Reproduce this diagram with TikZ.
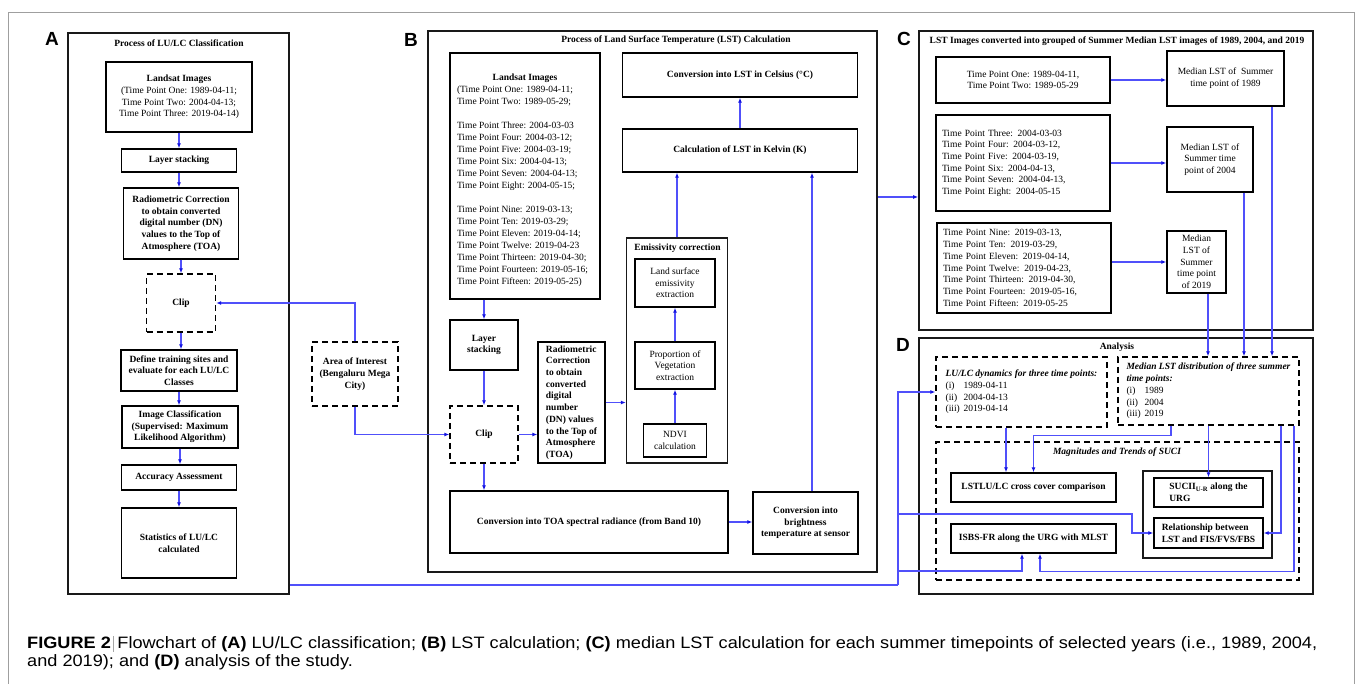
\documentclass[tikz,border=0pt]{standalone}
\usepackage{fontspec}
\usepackage{graphicx}
\setmainfont{Liberation Serif}
\newfontfamily\sansb{Liberation Sans}
\usetikzlibrary{arrows.meta,calc}
\definecolor{lnc}{RGB}{80,80,250}
\definecolor{tipc}{RGB}{20,20,225}
\definecolor{capc}{RGB}{45,45,45}
\tikzset{
  wh/.style 2 args={minimum width=#1pt, minimum height=#2pt},
  bx/.style={draw=black, line width=1.4pt, inner sep=2pt, align=center, font=\fontsize{9.5}{11.7}\selectfont\bfseries},
  nbx/.style={draw=black, line width=1.4pt, inner sep=2pt, align=center, font=\fontsize{9.5}{11.7}\selectfont},
  dsh/.style={dash pattern=on 6pt off 4pt},
  panel/.style={draw=black!90, line width=1.7pt, inner sep=0pt},
  conn/.style={draw=lnc, line width=1.2pt, -{Latex[length=5pt,width=4pt,color=tipc]}},
  plainln/.style={draw=lnc, line width=1.2pt},
  ttl/.style={font=\fontsize{9.5}{11.7}\selectfont\bfseries, inner sep=0pt},
  ttli/.style={font=\fontsize{9.5}{11.7}\selectfont\bfseries\itshape, inner sep=0pt},
  letter/.style={font=\sansb\fontsize{19}{19}\selectfont\bfseries, inner sep=0pt},
}
\newcommand\lln[1]{\makebox[136pt][l]{#1}}
\newcommand\rn[1]{\makebox[18pt][l]{#1}}
\newfontfamily\capfont{Liberation Sans}
\newsavebox\capboxA
\newsavebox\capboxB
\begin{document}
\sbox\capboxA{\capfont\fontsize{16.5}{18}\selectfont\textbf{FIGURE 2}\hspace{2pt}{\color{gray!70}\rule[-3.5pt]{0.9pt}{16pt}}\hspace{3pt}Flowchart of \textbf{(A)} LU/LC classification; \textbf{(B)} LST calculation; \textbf{(C)} median LST calculation for each summer timepoints of selected years (i.e., 1989, 2004,}
\sbox\capboxB{\capfont\fontsize{16.5}{18}\selectfont and 2019); and \textbf{(D)} analysis of the study.}
\edef\capratio{\fpeval{1290/(\the\wd\capboxA)}}
\begin{tikzpicture}[x=1pt,y=-1pt]
\useasboundingbox (0,0) rectangle (1358,684);
\fill[white] (0,0) rectangle (1358,684);
\draw[gray!75, line width=0.8pt] (8,700) -- (8,12) -- (1354,12) -- (1354,700);

% panel letters
\node[letter] (LA) at (52,39) {A};
\node[letter] (LB) at (411,40) {B};
\node[letter] (LC) at (904,39) {C};
\node[letter] (LD) at (903,345) {D};

% ---------- Panel A ----------
\node[panel, wh={221}{561}] (pA) at (178.5,313.5) {};
\node[ttl] (tA) at (179,43) {Process of LU/LC Classification};
\node[nbx, wh={146}{70}] (a1) at (179,97) {\textbf{Landsat Images}\\(Time Point One: 1989-04-11;\\Time Point Two: 2004-04-13;\\Time Point Three: 2019-04-14)};
\node[bx, wh={115}{23}] (a2) at (179,160.5) {Layer stacking};
\node[bx, wh={115}{71}] (a3) at (181,223.5) {Radiometric Correction\\to obtain converted\\digital number (DN)\\values to the Top of\\Atmosphere (TOA)};
\node[bx, dsh, wh={69}{58}] (a4) at (181,303) {Clip};
\node[bx, wh={116}{41}] (a5) at (179,370.5) {Define training sites and\\evaluate for each LU/LC\\Classes};
\node[bx, wh={116}{42}] (a6) at (180,427) {Image Classification\\(Supervised: Maximum\\Likelihood Algorithm)};
\node[bx, wh={115}{25}] (a7) at (179,477.5) {Accuracy Assessment};
\node[bx, wh={115}{70}] (a8) at (179,543) {Statistics of LU/LC\\calculated};

\node[bx, dsh, wh={86}{64}] (aoi) at (355,374) {Area of Interest\\(Bengaluru Mega\\City)};

% ---------- Panel B ----------
\node[panel, wh={449}{541}] (pB) at (652.5,301.5) {};
\node[ttl] (tB) at (676,40) {Process of Land Surface Temperature (LST) Calculation};
\node[nbx, wh={150}{246}, font=\fontsize{9.5}{12}\selectfont] (b1) at (525,176) {\rule{0pt}{16pt}\textbf{Landsat Images}\\
\lln{(Time Point One: 1989-04-11;}\\
\lln{Time Point Two: 1989-05-29;}\\[12pt]
\lln{Time Point Three: 2004-03-03}\\
\lln{Time Point Four: 2004-03-12;}\\
\lln{Time Point Five: 2004-03-19;}\\
\lln{Time Point Six: 2004-04-13;}\\
\lln{Time Point Seven: 2004-04-13;}\\
\lln{Time Point Eight: 2004-05-15;}\\[12pt]
\lln{Time Point Nine: 2019-03-13;}\\
\lln{Time Point Ten: 2019-03-29;}\\
\lln{Time Point Eleven: 2019-04-14;}\\
\lln{Time Point Twelve: 2019-04-23}\\
\lln{Time Point Thirteen: 2019-04-30;}\\
\lln{Time Point Fourteen: 2019-05-16;}\\
\lln{Time Point Fifteen: 2019-05-25)}};
\node[bx, wh={68}{50}] (b2) at (484,345) {Layer\\stacking};
\node[bx, wh={67}{121}, align=left] (b3) at (571.5,402.5) {Radiometric\\Correction\\to obtain\\converted\\digital\\number\\(DN) values\\to the Top of\\Atmosphere\\(TOA)};
\node[bx, dsh, wh={68}{57}] (b4) at (484,434.5) {Clip};
\node[panel, line width=1.4pt, wh={101}{225}] (b5) at (677,350.5) {};
\node[ttl] (b5t) at (677.5,248) {Emissivity correction};
\node[nbx, wh={80}{48}] (b6) at (675,283) {Land surface\\emissivity\\extraction};
\node[nbx, wh={80}{47}] (b7) at (675,365.5) {Proportion of\\Vegetation\\extraction};
\node[nbx, wh={63}{33}] (b8) at (675,440.5) {NDVI\\calculation};
\node[bx, wh={235}{44}] (b9) at (740,75) {Conversion into LST in Celsius (°C)};
\node[bx, wh={235}{43}] (b10) at (740,150.5) {Calculation of LST in Kelvin (K)};
\node[bx, wh={278}{62}] (b11) at (589,522) {Conversion into TOA spectral radiance (from Band 10)};
\node[bx, wh={105}{62}] (b12) at (805.5,523) {Conversion into\\brightness\\temperature at sensor};

% ---------- Panel C ----------
\node[panel, wh={394}{299}] (pC) at (1116,180.5) {};
\node[ttl] (tC) at (1117,41) {LST Images converted into grouped of Summer Median LST images of 1989, 2004, and 2019};
\node[nbx, wh={174}{46}] (c1) at (1023,80) {Time Point One: 1989-04-11,\\Time Point Two: 1989-05-29};
\node[nbx, wh={117}{55}] (c2) at (1225.5,78.5) {Median LST of \ Summer\\time point of 1989};
\node[nbx, wh={174}{96}, text width=162pt, inner xsep=6pt, align=left] (c3) at (1023,163) {Time Point Three: 2004-03-03\\Time Point Four: 2004-03-12,\\Time Point Five: 2004-03-19,\\Time Point Six: 2004-04-13,\\Time Point Seven: 2004-04-13,\\Time Point Eight: 2004-05-15};
\node[nbx, wh={86}{65}] (c4) at (1210,159.5) {Median LST of\\Summer time\\point of 2004};
\node[nbx, wh={174}{90}, text width=162pt, inner xsep=6pt, align=left] (c5) at (1024,268) {Time Point Nine: 2019-03-13,\\Time Point Ten: 2019-03-29,\\Time Point Eleven: 2019-04-14,\\Time Point Twelve: 2019-04-23,\\Time Point Thirteen: 2019-04-30,\\Time Point Fourteen: 2019-05-16,\\Time Point Fifteen: 2019-05-25};
\node[nbx, wh={59}{62}] (c6) at (1196.5,262) {Median\\LST of\\Summer\\time point\\of 2019};

% ---------- Panel D ----------
\node[panel, wh={394}{256}] (pD) at (1116,466) {};
\node[ttl] (tD) at (1117,347) {Analysis};
\node[nbx, dsh, wh={171}{70}, align=left] (d1) at (1021.5,392) {\textbf{\textit{LU/LC dynamics for three time points:}}\\\rn{(i)}1989-04-11\\\rn{(ii)}2004-04-13\\\rn{(iii)}2019-04-14};
\node[nbx, dsh, wh={181}{68}, align=left] (d2) at (1208.5,391) {\textbf{\textit{Median LST distribution of three summer}}\\\textbf{\textit{time points:}}\\\rn{(i)}1989\\\rn{(ii)}2004\\\rn{(iii)}2019};
\node[nbx, dsh, wh={363}{138}] (d3) at (1117.5,511) {};
\node[ttli] (d3t) at (1117,452) {Magnitudes and Trends of SUCI};
\node[bx, wh={165}{29}] (d4) at (1033.5,487.5) {LSTLU/LC cross cover comparison};
\node[bx, wh={165}{29}] (d5) at (1033.5,538.5) {ISBS-FR along the URG with MLST};
\node[panel, line width=1.4pt, wh={129}{87}] (d6) at (1207.5,514.5) {};
\node[bx, wh={109}{29}, align=left] (d7) at (1208.5,492.5) {SUCII\textsubscript{U-R} along the\\URG};
\node[bx, wh={109}{30}, align=left] (d8) at (1208.5,533) {Relationship between\\LST and FIS/FVS/FBS};

% ---------- connectors: A ----------
\draw[conn] (a1.south) -- (a1.south |- a2.north);
\draw[conn] (a2.south) -- (a2.south |- a3.north);
\draw[conn] (a3.south) -- (a3.south |- a4.north);
\draw[conn] (a4.south) -- (a4.south |- a5.north);
\draw[conn] (a5.south) -- (a5.south |- a6.north);
\draw[conn] (a6.south) -- (a6.south |- a7.north);
\draw[conn] (a7.south) -- (a7.south |- a8.north);
\draw[conn] (aoi.north) |- (a4.east);
\draw[conn] (aoi.south) |- (b4.west);

% ---------- connectors: B ----------
\draw[conn] (b2.north |- b1.south) -- (b2.north);
\draw[conn] (b2.south) -- (b4.north);
\draw[conn] (b4.east) -- (b4.east -| b3.west);
\draw[conn] (b3.east) -- (b3.east -| b5.west);
\draw[conn] (b8.north) -- (b8.north |- b7.south);
\draw[conn] (b7.north) -- (b7.north |- b6.south);
\draw[conn] (b5.north) -- (b5.north |- b10.south);
\draw[conn] (b10.north) -- (b10.north |- b9.south);
\draw[conn] (b4.south) -- (b4.south |- b11.north);
\draw[conn] (b11.east) -- (b11.east -| b12.west);
\draw[conn] ([xshift=6.5pt]b12.north) -- ([xshift=6.5pt]b12.north |- b10.south);
\coordinate (bc) at (900,197);
\draw[conn] (pB.east |- bc) -- (pC.west |- bc);

% ---------- connectors: C ----------
\draw[conn] (c1.east) -- (c1.east -| c2.west);
\draw[conn] (c3.east) -- (c3.east -| c4.west);
\draw[conn] (c6.west -| c5.east) -- (c6.west);
\draw[conn] ([xshift=11.5pt]c6.south) -- ([xshift=11.5pt]c6.south |- d2.north);
\draw[conn] ([xshift=34pt]c4.south) -- ([xshift=34pt]c4.south |- d2.north);
\draw[conn] ([xshift=46.5pt]c2.south) -- ([xshift=46.5pt]c2.south |- d2.north);

% ---------- connectors: D ----------
\draw[conn] ([xshift=-15.5pt]d1.south) -- ([xshift=-15.5pt]d1.south |- d4.north);
\draw[conn] ([xshift=-37.5pt]d2.south) -- ++(0,10) -| (d4.north);
\draw[conn] (d2.south) -- (d2.south |- d7.north);
\draw[conn] ([xshift=72.5pt]d2.south) |- (d8.east);
\draw[conn] ([xshift=85.5pt]d2.south) |- ([xshift=6.5pt,yshift=-18pt]d5.south) -- ([xshift=6.5pt]d5.south);

\coordinate (j1) at (898,585);
\coordinate (j2) at (898,514);
\coordinate (j3) at (898,571);
\coordinate (k2) at (1132,514);
\draw[plainln] (pA.east |- j1) -- (j1);
\draw[conn] (j1) |- (d1.west);
\draw[conn] (j2) -- (k2) |- (d8.west);
\draw[conn] (j3) -| ([xshift=-11.5pt]d5.south);

% ---------- caption ----------
\node[anchor=base west, inner sep=0pt, text=capc] (cap1) at (27,648) {\scalebox{\capratio}[1]{\usebox\capboxA}};
\node[anchor=base west, inner sep=0pt, text=capc] (cap2) at (27,666) {\scalebox{\capratio}[1]{\usebox\capboxB}};
\end{tikzpicture}
\end{document}
